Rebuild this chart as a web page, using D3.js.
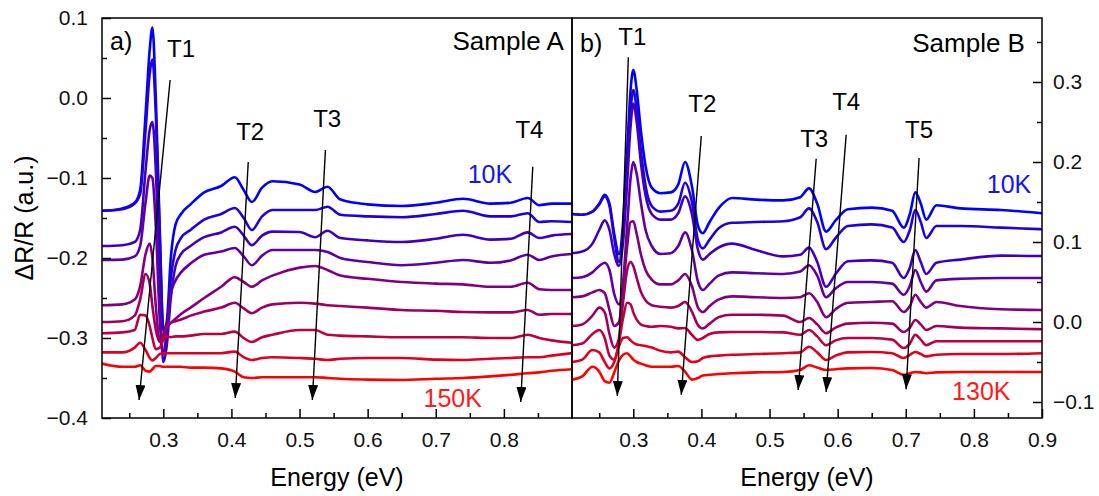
<!DOCTYPE html>
<html>
<head>
<meta charset="utf-8">
<script src="https://cdn.jsdelivr.net/npm/d3@7"></script>
<style>
  body { margin: 0; background: #fff; }
  svg { display: block; font-family: "Liberation Sans", Arial, sans-serif; }
</style>
</head>
<body>
<svg width="1099" height="496"></svg>
<script>
// ---- Sample A (left panel), energy grid in eV, curves from 10K (top) to 150K (bottom)
const energyA = [0.21,0.24,0.258,0.266,0.274,0.28,0.284,0.289,0.295,0.30,0.305,0.311,0.318,0.326,0.34,0.36,0.385,0.405,0.418,0.43,0.445,0.46,0.50,0.523,0.541,0.56,0.60,0.65,0.70,0.74,0.78,0.81,0.835,0.852,0.87,0.90];
const a1 = [-0.141,-0.138,-0.131,-0.115,-0.02,0.06,0.088,0.0,-0.17,-0.29,-0.28,-0.2,-0.158,-0.145,-0.133,-0.118,-0.11,-0.099,-0.115,-0.13,-0.112,-0.104,-0.108,-0.1175,-0.111,-0.127,-0.133,-0.135,-0.131,-0.126,-0.132,-0.131,-0.125,-0.134,-0.132,-0.132];
const a2 = [-0.141,-0.139,-0.132,-0.12,-0.04,0.03,0.048,-0.02,-0.18,-0.29,-0.285,-0.225,-0.19,-0.175,-0.165,-0.152,-0.145,-0.1375,-0.15,-0.165,-0.148,-0.14,-0.14,-0.14,-0.136,-0.146,-0.148,-0.149,-0.145,-0.141,-0.148,-0.148,-0.144,-0.155,-0.154,-0.155];
const a3 = [-0.185,-0.184,-0.18,-0.165,-0.09,-0.04,-0.03,-0.09,-0.25,-0.33,-0.31,-0.25,-0.21,-0.195,-0.185,-0.174,-0.168,-0.161,-0.172,-0.184,-0.172,-0.167,-0.1675,-0.174,-0.166,-0.175,-0.178,-0.18,-0.176,-0.171,-0.177,-0.176,-0.168,-0.175,-0.172,-0.17];
const a4 = [-0.2025,-0.202,-0.198,-0.185,-0.13,-0.097,-0.10,-0.16,-0.28,-0.32,-0.29,-0.245,-0.228,-0.218,-0.207,-0.196,-0.192,-0.1875,-0.198,-0.209,-0.197,-0.19,-0.19,-0.19,-0.1925,-0.2,-0.205,-0.209,-0.206,-0.2025,-0.206,-0.203,-0.196,-0.2025,-0.198,-0.195];
const a5 = [-0.259,-0.258,-0.252,-0.235,-0.195,-0.182,-0.2,-0.26,-0.305,-0.3,-0.287,-0.281,-0.276,-0.27,-0.262,-0.25,-0.236,-0.224,-0.23,-0.236,-0.228,-0.222,-0.212,-0.21,-0.215,-0.222,-0.226,-0.23,-0.232,-0.233,-0.236,-0.236,-0.231,-0.239,-0.24,-0.24];
const a6 = [-0.28,-0.279,-0.272,-0.252,-0.22,-0.232,-0.26,-0.29,-0.305,-0.295,-0.285,-0.281,-0.279,-0.277,-0.272,-0.267,-0.262,-0.256,-0.263,-0.269,-0.262,-0.258,-0.256,-0.257,-0.259,-0.26,-0.262,-0.265,-0.266,-0.2675,-0.268,-0.268,-0.265,-0.271,-0.27,-0.27];
const a7 = [-0.294,-0.293,-0.29,-0.271,-0.272,-0.285,-0.3,-0.314,-0.312,-0.302,-0.298,-0.299,-0.298,-0.298,-0.297,-0.295,-0.295,-0.292,-0.3,-0.305,-0.299,-0.296,-0.29,-0.29,-0.296,-0.297,-0.298,-0.299,-0.299,-0.299,-0.30,-0.30,-0.296,-0.30,-0.303,-0.306];
const a8 = [-0.318,-0.318,-0.312,-0.306,-0.315,-0.325,-0.328,-0.325,-0.32,-0.319,-0.319,-0.319,-0.319,-0.319,-0.319,-0.319,-0.319,-0.317,-0.324,-0.3275,-0.325,-0.324,-0.325,-0.326,-0.3275,-0.326,-0.325,-0.325,-0.327,-0.3275,-0.326,-0.325,-0.324,-0.324,-0.322,-0.319];
const a9 = [-0.332,-0.336,-0.336,-0.334,-0.341,-0.342,-0.339,-0.335,-0.335,-0.336,-0.336,-0.336,-0.336,-0.336,-0.337,-0.337,-0.338,-0.342,-0.349,-0.35,-0.349,-0.349,-0.349,-0.349,-0.35,-0.351,-0.352,-0.3525,-0.351,-0.35,-0.348,-0.346,-0.344,-0.343,-0.341,-0.339];

// ---- Sample B (right panel), curves from 10K (top) to 130K (bottom)
const energyB = [0.21,0.225,0.24,0.25,0.258,0.265,0.272,0.279,0.285,0.291,0.296,0.30,0.305,0.311,0.318,0.327,0.34,0.355,0.366,0.376,0.386,0.395,0.402,0.412,0.425,0.445,0.48,0.52,0.545,0.558,0.57,0.583,0.597,0.615,0.65,0.68,0.697,0.706,0.714,0.722,0.73,0.745,0.78,0.84,0.90];
const b1 = [0.135,0.134,0.138,0.148,0.159,0.148,0.11,0.085,0.125,0.215,0.29,0.315,0.29,0.24,0.195,0.168,0.161,0.162,0.172,0.2,0.17,0.12,0.111,0.125,0.142,0.155,0.153,0.152,0.156,0.167,0.148,0.113,0.127,0.141,0.143,0.139,0.118,0.135,0.162,0.148,0.128,0.146,0.142,0.14,0.136];
const b2 = [0.135,0.134,0.138,0.147,0.157,0.145,0.105,0.075,0.115,0.2,0.265,0.29,0.265,0.215,0.17,0.145,0.138,0.139,0.148,0.174,0.15,0.102,0.092,0.103,0.117,0.124,0.125,0.126,0.131,0.142,0.125,0.091,0.105,0.12,0.122,0.118,0.1,0.115,0.14,0.125,0.105,0.12,0.12,0.118,0.116];
const b3 = [0.086,0.088,0.098,0.115,0.127,0.115,0.085,0.07,0.1,0.175,0.245,0.273,0.25,0.2,0.158,0.135,0.128,0.128,0.136,0.157,0.135,0.09,0.078,0.085,0.093,0.098,0.09,0.082,0.084,0.093,0.075,0.044,0.06,0.076,0.077,0.074,0.055,0.068,0.09,0.075,0.06,0.074,0.078,0.083,0.0825];
const b4 = [0.055,0.056,0.062,0.07,0.074,0.065,0.035,0.022,0.05,0.12,0.18,0.2,0.185,0.15,0.115,0.095,0.085,0.086,0.095,0.112,0.09,0.05,0.04,0.048,0.058,0.062,0.061,0.06,0.063,0.071,0.058,0.031,0.042,0.05,0.05,0.048,0.034,0.045,0.065,0.05,0.038,0.052,0.054,0.055,0.055];
const b5 = [0.031,0.032,0.037,0.04,0.036,0.015,-0.005,0.0,0.04,0.095,0.125,0.126,0.11,0.085,0.065,0.053,0.047,0.047,0.052,0.06,0.045,0.018,0.0125,0.02,0.028,0.032,0.031,0.03,0.031,0.036,0.025,0.006,0.016,0.024,0.025,0.026,0.0125,0.02,0.034,0.025,0.018,0.025,0.02,0.016,0.015];
const b6 = [-0.005,-0.003,0.008,0.018,0.012,-0.015,-0.032,-0.02,0.025,0.065,0.075,0.07,0.055,0.038,0.027,0.021,0.019,0.018,0.02,0.025,0.013,-0.004,-0.008,-0.002,0.006,0.009,0.009,0.008,0.0,0.005,-0.003,-0.014,-0.007,-0.002,-0.001,-0.002,-0.0125,-0.007,0.0025,-0.003,-0.01,-0.005,-0.007,-0.008,-0.009];
const b7 = [-0.029,-0.027,-0.015,-0.01,-0.02,-0.042,-0.047,-0.025,0.005,0.024,0.022,0.012,0.003,-0.003,-0.005,-0.006,-0.005,-0.006,-0.008,-0.0075,-0.016,-0.0225,-0.02,-0.015,-0.013,-0.0125,-0.0125,-0.013,-0.016,-0.01,-0.018,-0.029,-0.023,-0.02,-0.02,-0.022,-0.0325,-0.027,-0.016,-0.022,-0.029,-0.024,-0.024,-0.024,-0.024];
const b8 = [-0.05,-0.047,-0.035,-0.038,-0.05,-0.058,-0.05,-0.03,-0.02,-0.019,-0.023,-0.026,-0.028,-0.029,-0.03,-0.032,-0.036,-0.038,-0.037,-0.044,-0.05,-0.049,-0.045,-0.043,-0.042,-0.041,-0.04,-0.039,-0.038,-0.031,-0.038,-0.0475,-0.042,-0.038,-0.0375,-0.039,-0.045,-0.041,-0.0375,-0.04,-0.043,-0.041,-0.04,-0.04,-0.039];
const b9 = [-0.072,-0.068,-0.056,-0.062,-0.074,-0.076,-0.063,-0.048,-0.041,-0.039,-0.043,-0.047,-0.05,-0.052,-0.054,-0.056,-0.056,-0.056,-0.055,-0.062,-0.072,-0.07,-0.067,-0.066,-0.065,-0.064,-0.063,-0.0625,-0.06,-0.054,-0.057,-0.06,-0.059,-0.058,-0.0575,-0.06,-0.066,-0.064,-0.0625,-0.063,-0.064,-0.063,-0.0625,-0.0625,-0.0625];

// ---- transition markers: [label, E top, value top, E tip, value tip]
const arrowsA = [
  ["T1", 0.310, 0.0225, 0.2644, -0.3775],
  ["T2", 0.4247, -0.080, 0.4056, -0.375],
  ["T3", 0.538, -0.065, 0.5188, -0.3775],
  ["T4", 0.8424, -0.086, 0.8247, -0.380]
];
const arrowsB = [
  ["T1", 0.2927, 0.331, 0.2765, -0.0925],
  ["T2", 0.3998, 0.2325, 0.3704, -0.091],
  ["T3", 0.5685, 0.204, 0.542, -0.085],
  ["T4", 0.6125, 0.234, 0.5831, -0.0875],
  ["T5", 0.7195, 0.205, 0.7005, -0.084]
];
// label anchors [text, E, value]
const labelsA = [["T1", 0.3056, 0.0512], ["T2", 0.407, -0.0525], ["T3", 0.520, -0.036], ["T4", 0.817, -0.050]];
const labelsB = [["T1", 0.278, 0.346], ["T2", 0.3807, 0.2625], ["T3", 0.545, 0.219], ["T4", 0.592, 0.265], ["T5", 0.699, 0.230]];

const xMajorA = [0.3, 0.4, 0.5, 0.6, 0.7, 0.8];
const xMajorB = [0.3, 0.4, 0.5, 0.6, 0.7, 0.8, 0.9];
const xMinor = [0.25, 0.35, 0.45, 0.55, 0.65, 0.75, 0.85];
const yMajorA = [-0.4, -0.3, -0.2, -0.1, 0.0, 0.1];
const yMinorA = [-0.35, -0.25, -0.15, -0.05, 0.05];
const yMajorB = [-0.1, 0.0, 0.1, 0.2, 0.3];
const yMinorB = [-0.05, 0.05, 0.15, 0.25, 0.35];

document.addEventListener('DOMContentLoaded', () => {

    const svg = d3.select("svg"),
          top = 18,
          bottom = 418,
          fmt = d3.format(".1f");

    const color = i => d3.interpolateRgb("#0000ff", "#ff0000")(i / 8);

    svg.append("defs").append("marker")
        .attr("id", "head")
        .attr("markerUnits", "userSpaceOnUse")
        .attr("markerWidth", 16).attr("markerHeight", 10)
        .attr("refX", 15).attr("refY", 5)
        .attr("orient", "auto")
        .append("path")
        .attr("d", "M0,0 L15,5 L0,10 Z")
        .attr("fill", "#000");

    function panel(p) {
        const x = d3.scaleLinear().domain([0.21, 0.9]).range([p.x0, p.x1]);
        const y = d3.scaleLinear().domain(p.yDomain).range([bottom, top]);
        const g = svg.append("g");

        g.append("clipPath").attr("id", p.id)
            .append("rect")
            .attr("x", p.x0).attr("y", top)
            .attr("width", p.x1 - p.x0).attr("height", bottom - top);

        const line = d3.line()
            .x(d => x(d[0]))
            .y(d => y(d[1]))
            .curve(d3.curveMonotoneX);

        g.append("g").attr("clip-path", "url(#" + p.id + ")")
            .selectAll("path")
            .data(p.curves)
            .enter().append("path")
            .attr("d", vals => line(p.energy.map((e, j) => [e, vals[j]])))
            .attr("fill", "none")
            .attr("stroke", (d, i) => color(i))
            .attr("stroke-width", 2.6)
            .attr("stroke-linejoin", "round");

        // arrows
        g.selectAll(".arr")
            .data(p.arrows)
            .enter().append("line")
            .attr("x1", d => x(d[1])).attr("y1", d => y(d[2]))
            .attr("x2", d => x(d[3])).attr("y2", d => y(d[4]))
            .attr("stroke", "#000")
            .attr("stroke-width", 1.4)
            .attr("marker-end", "url(#head)");

        g.selectAll(".lab")
            .data(p.labels)
            .enter().append("text")
            .attr("x", d => x(d[1])).attr("y", d => y(d[2]))
            .attr("font-size", 24)
            .text(d => d[0]);

        // bottom axis, ticks inward
        g.append("g").attr("transform", "translate(0," + bottom + ")")
            .call(d3.axisBottom(x).tickValues(p.xMajor).tickSize(-9).tickPadding(14).tickFormat(fmt))
            .call(a => a.select(".domain").remove())
            .call(a => a.selectAll("text").attr("font-size", 21).attr("font-family", null).attr("fill", "#111"))
            .call(a => a.selectAll("line").attr("stroke-width", 1.5));
        g.append("g").attr("transform", "translate(0," + bottom + ")")
            .call(d3.axisBottom(x).tickValues(xMinor).tickSize(-5).tickFormat(""))
            .call(a => a.select(".domain").remove())
            .call(a => a.selectAll("line").attr("stroke-width", 1.5));

        // vertical axis
        const side = p.side === "left" ? d3.axisLeft : d3.axisRight;
        const ax = p.side === "left" ? p.x0 : p.x1;
        g.append("g").attr("transform", "translate(" + ax + ",0)")
            .call(side(y).tickValues(p.yMajor).tickSize(-9).tickPadding(p.side === "left" ? 14 : 11).tickFormat(fmt))
            .call(a => a.select(".domain").remove())
            .call(a => a.selectAll("text").attr("font-size", 21).attr("font-family", null).attr("fill", "#111"))
            .call(a => a.selectAll("line").attr("stroke-width", 1.5));
        g.append("g").attr("transform", "translate(" + ax + ",0)")
            .call(side(y).tickValues(p.yMinor).tickSize(-5).tickFormat(""))
            .call(a => a.select(".domain").remove())
            .call(a => a.selectAll("line").attr("stroke-width", 1.5));

        g.append("rect")
            .attr("x", p.x0).attr("y", top)
            .attr("width", p.x1 - p.x0).attr("height", bottom - top)
            .attr("fill", "none").attr("stroke", "#000").attr("stroke-width", 1.5);

        // panel texts
        g.append("text").attr("x", x(0.2218)).attr("y", y(p.tagV))
            .attr("font-size", 25).text(p.tag);
        g.append("text").attr("x", x(p.sampleE)).attr("y", y(p.tagV))
            .attr("font-size", 26).attr("text-anchor", "end").text(p.sample);
        g.append("text").attr("x", x(p.coldE)).attr("y", y(p.coldV))
            .attr("font-size", 25).attr("fill", "#1414f5").text("10K");
        g.append("text").attr("x", x(p.hotE)).attr("y", y(p.hotV))
            .attr("font-size", 25).attr("fill", "#ff1a1a").text(p.hot);

        g.append("text")
            .attr("x", (p.x0 + p.x1) / 2).attr("y", 486)
            .attr("text-anchor", "middle").attr("font-size", 25)
            .text("Energy (eV)");
    }

    panel({
        id: "clipA", side: "left", x0: 102, x1: 572, yDomain: [-0.4, 0.1],
        energy: energyA, curves: [a1, a2, a3, a4, a5, a6, a7, a8, a9],
        arrows: arrowsA, labels: labelsA,
        xMajor: xMajorA, yMajor: yMajorA, yMinor: yMinorA,
        tag: "a)", tagV: 0.06, sample: "Sample A", sampleE: 0.888,
        coldE: 0.7468, coldV: -0.106, hot: "150K", hotE: 0.682, hotV: -0.386
    });

    panel({
        id: "clipB", side: "right", x0: 572, x1: 1042, yDomain: [-0.12, 0.38],
        energy: energyB, curves: [b1, b2, b3, b4, b5, b6, b7, b8, b9],
        arrows: arrowsB, labels: labelsB,
        xMajor: xMajorB, yMajor: yMajorB, yMinor: yMinorB,
        tag: "b)", tagV: 0.3375, sample: "Sample B", sampleE: 0.875,
        coldE: 0.819, coldV: 0.161, hot: "130K", hotE: 0.768, hotV: -0.0975
    });

    svg.append("text")
        .attr("transform", "translate(33,218) rotate(-90)")
        .attr("text-anchor", "middle")
        .attr("font-size", 25)
        .text("ΔR/R (a.u.)");
});
</script>
</body>
</html>
